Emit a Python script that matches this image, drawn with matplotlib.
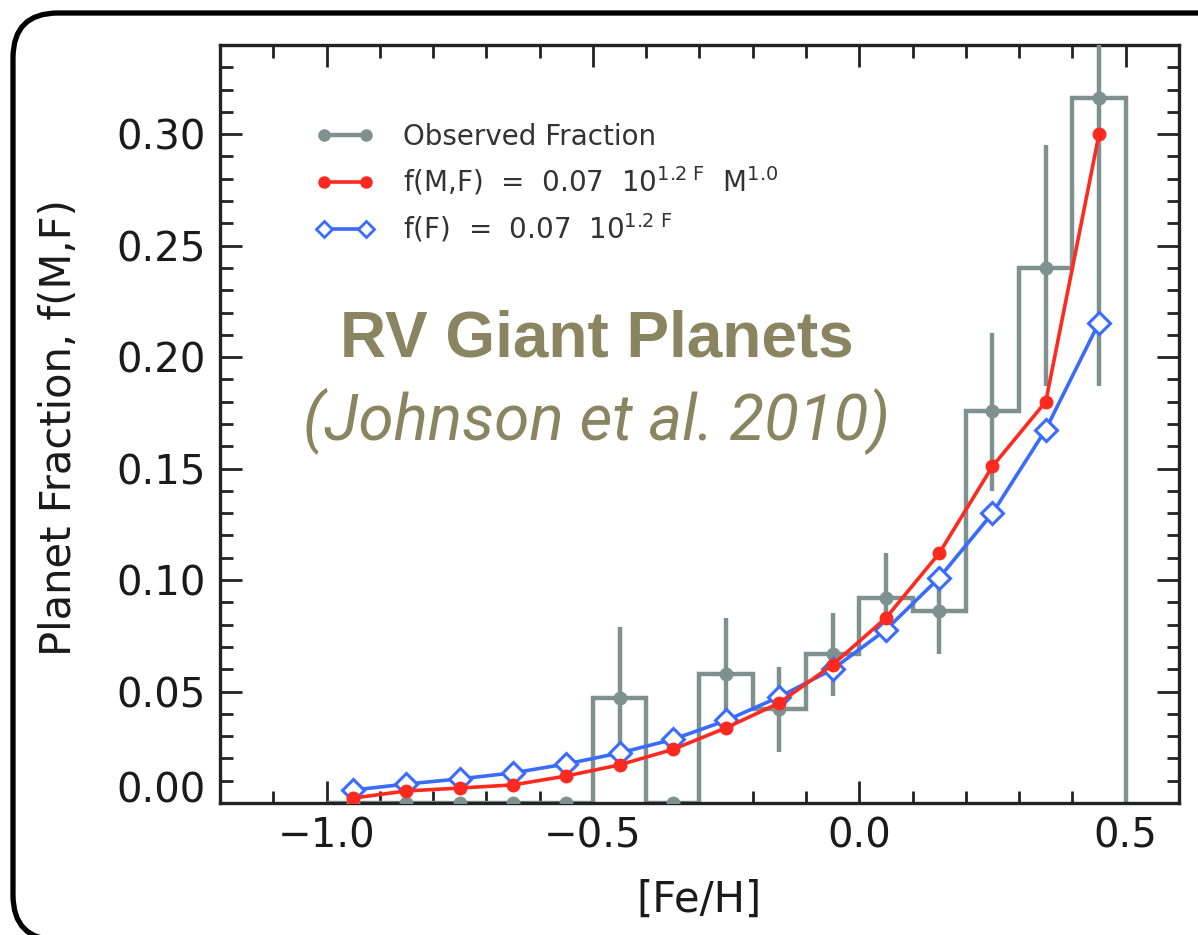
import numpy as np
import matplotlib
matplotlib.use("Agg")
import matplotlib.pyplot as plt
from matplotlib.lines import Line2D
from matplotlib.patches import FancyBboxPatch
from matplotlib.transforms import IdentityTransform
from matplotlib.ticker import MultipleLocator

# [Fe/H] bins (centres and edges)
feh_centers = [-0.95, -0.85, -0.75, -0.65, -0.55, -0.45, -0.35, -0.25,
               -0.15, -0.05, 0.05, 0.15, 0.25, 0.35, 0.45]
bin_edges = [-1.0, -0.9, -0.8, -0.7, -0.6, -0.5, -0.4, -0.3, -0.2, -0.1,
             0.0, 0.1, 0.2, 0.3, 0.4, 0.5]

# observed planet fraction with lower / upper ends of the error bars
observed = [0, 0, 0, 0, 0, 0.047, 0, 0.058, 0.042, 0.067, 0.092, 0.086, 0.176, 0.240, 0.316]
obs_low = [0, 0, 0, 0, 0, 0.015, 0, 0.033, 0.023, 0.048, 0.072, 0.067, 0.140, 0.187, 0.187]
obs_high = [0, 0, 0, 0, 0, 0.079, 0, 0.083, 0.061, 0.085, 0.112, 0.106, 0.211, 0.295, 0.360]

# model curves
model_mf = [0.0022, 0.0054, 0.0067, 0.0081, 0.0121, 0.0171, 0.0240, 0.0337, 0.0449,
            0.062, 0.083, 0.112, 0.151, 0.180, 0.300]
model_f = [0.0058, 0.0085, 0.0108, 0.0135, 0.0175, 0.0224, 0.0285, 0.037, 0.0476,
           0.060, 0.0777, 0.101, 0.130, 0.1675, 0.2155]

xticks = [-1.0, -0.5, 0.0, 0.5]
xtick_labels = ["\u22121.0", "\u22120.5", "0.0", "0.5"]
yticks = [0.0, 0.05, 0.10, 0.15, 0.20, 0.25, 0.30]
ytick_labels = ["0.00", "0.05", "0.10", "0.15", "0.20", "0.25", "0.30"]

GRAY = "#7f918e"
RED = "#ff2a1f"
BLUE = "#3a6bff"
OLIVE = "#8a8560"


def main():
    plt.rcParams["font.family"] = ["DejaVu Sans"]
    plt.rcParams["mathtext.default"] = "regular"

    fig = plt.figure(figsize=(11.98, 9.35), dpi=100)
    ax = fig.add_axes([0.1836, 0.1412, 0.8005, 0.8107])

    obs = np.array(observed)
    lo_err = obs - np.array(obs_low)
    hi_err = np.array(obs_high) - obs

    # histogram outline + error bars + points
    ax.stairs(observed, bin_edges, baseline=0, color=GRAY, lw=3.2, zorder=2)
    ax.errorbar(feh_centers, observed, yerr=[lo_err, hi_err], fmt="o", color=GRAY,
                ms=9, elinewidth=3.2, capsize=0, zorder=3)

    ax.plot(feh_centers, model_f, color=BLUE, lw=2.6, marker="D", ms=11,
            mfc="white", mec=BLUE, mew=2.2, zorder=4)
    ax.plot(feh_centers, model_mf, color=RED, lw=2.6, marker="o", ms=9,
            mec=RED, zorder=5)

    ax.set_xlim(-1.2, 0.6)
    ax.set_ylim(0, 0.34)
    ax.set_xticks(xticks)
    ax.set_xticklabels(xtick_labels)
    ax.set_yticks(yticks)
    ax.set_yticklabels(ytick_labels)
    ax.xaxis.set_minor_locator(MultipleLocator(0.1))
    ax.yaxis.set_minor_locator(MultipleLocator(0.01))
    ax.tick_params(which="both", direction="in", top=True, right=True, width=2, color="#222222")
    ax.tick_params(which="major", length=16, labelsize=29, pad=10, labelcolor="#1a1a1a")
    ax.tick_params(which="minor", length=9)
    for s in ax.spines.values():
        s.set_linewidth(2.4)
        s.set_color("#222222")
    # the 0.00 label sits a bit above its tick in the original
    ax.get_yticklabels()[0].set_verticalalignment("baseline")

    ax.set_ylabel("Planet Fraction, f(M,F)", fontsize=30, color="#1a1a1a")
    ax.yaxis.set_label_coords(-0.146, 0.495)
    ax.set_xlabel("[Fe/H]", fontsize=30, color="#1a1a1a")
    ax.xaxis.set_label_coords(0.5, -0.1)

    handles = [
        Line2D([], [], color=GRAY, lw=3.2, marker="o", ms=8),
        Line2D([], [], color=RED, lw=2.6, marker="o", ms=8),
        Line2D([], [], color=BLUE, lw=2.6, marker="D", ms=8, mfc="white", mew=2),
    ]
    labels = [
        "Observed Fraction",
        r"f(M,F)  =  0.07  10$^{1.2\ F}$  M$^{1.0}$",
        r"f(F)  =  0.07  10$^{1.2\ F}$",
    ]
    ax.legend(handles, labels, loc="upper left", bbox_to_anchor=(0.1, 0.897),
              frameon=False, numpoints=2, handlelength=2.1, handletextpad=1.05,
              labelspacing=0.5, borderpad=0, borderaxespad=0,
              prop={"family": "DejaVu Sans", "size": 20}, labelcolor="#333333")

    ax.text(0.393, 0.611, "RV Giant Planets", transform=ax.transAxes, ha="center",
            va="center", fontsize=46, fontweight="bold", color=OLIVE,
            family="Liberation Sans")
    ax.text(0.393, 0.503, "(Johnson et al. 2010)", transform=ax.transAxes, ha="center",
            va="center", fontsize=46, style="italic", fontweight="normal", color=OLIVE,
            family="Roboto")

    # rounded frame around the whole slide (runs off the right / bottom edge)
    frame = FancyBboxPatch((13, -5), 1250, 927, boxstyle="round,pad=0,rounding_size=45",
                           transform=IdentityTransform(), fill=False, ec="black", lw=3.8)
    fig.add_artist(frame)

    fig.savefig("out.png", dpi=100)


if __name__ == "__main__":
    main()
